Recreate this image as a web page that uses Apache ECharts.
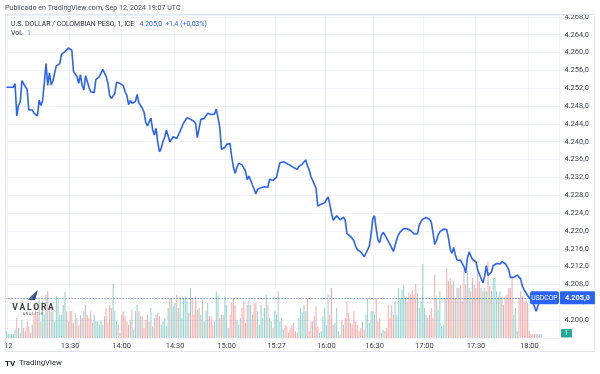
<!DOCTYPE html>
<html><head><meta charset="utf-8">
<script src="https://cdn.jsdelivr.net/npm/echarts@6/dist/echarts.min.js"></script>
<style>html,body{margin:0;padding:0;background:#fff}#c{width:600px;height:374px}</style>
</head><body><div id="c"></div>
<script>
// 1-minute closes, USD/COP (ICE), Sep 12 2024
const prices = [
4252.2,4252.2,4252.2,4252.2,4252.2,4253.0,4245.8,4248.2,4248.8,4253.7,
4253.4,4252.3,4251.8,4247.1,4247.0,4247.1,4246.4,4246.0,4245.8,4249.3,
4248.1,4249.2,4253.1,4257.5,4252.6,4255.4,4252.7,4253.6,4255.4,4257.0,
4257.2,4257.5,4259.6,4259.8,4260.2,4260.1,4261.0,4260.6,4260.5,4255.7,
4255.7,4254.6,4253.1,4255.0,4252.6,4251.6,4254.8,4253.5,4252.2,4251.2,
4250.9,4251.0,4253.9,4254.2,4254.6,4255.0,4256.2,4256.1,4254.6,4253.1,
4250.3,4249.7,4250.1,4250.8,4253.3,4253.0,4253.1,4252.9,4252.5,4251.2,
4250.4,4248.3,4249.2,4248.6,4249.0,4249.0,4250.6,4248.7,4248.8,4247.5,
4246.6,4244.3,4243.5,4244.5,4245.3,4242.7,4241.5,4243.0,4239.8,4237.7,
4238.5,4240.1,4241.0,4242.6,4242.9,4240.0,4240.4,4241.1,4241.1,4240.7,
4241.5,4241.8,4243.3,4244.2,4244.8,4245.4,4245.0,4245.0,4244.8,4244.6,
4244.0,4240.9,4243.0,4245.0,4244.9,4245.2,4245.8,4246.4,4246.3,4246.1,
4246.0,4246.2,4247.3,4247.3,4243.4,4238.3,4238.3,4238.7,4239.4,4239.7,
4239.6,4236.5,4234.2,4232.9,4234.2,4235.2,4235.3,4234.8,4234.5,4233.4,
4231.5,4232.3,4232.5,4230.3,4229.4,4228.3,4229.3,4229.5,4229.7,4229.9,
4229.9,4229.9,4229.8,4231.6,4231.6,4231.3,4231.6,4232.0,4233.7,4235.3,
4235.5,4235.5,4235.3,4235.1,4235.0,4234.7,4234.4,4234.2,4233.9,4233.8,
4234.4,4234.8,4235.0,4235.3,4235.9,4234.6,4233.7,4232.2,4232.2,4230.5,
4229.5,4225.6,4225.8,4226.0,4226.0,4226.3,4227.0,4227.6,4226.0,4224.0,
4222.4,4222.4,4223.4,4223.4,4222.5,4222.4,4223.1,4222.3,4219.4,4219.1,
4218.8,4218.7,4217.8,4216.6,4215.8,4215.6,4215.3,4215.1,4214.2,4215.0,
4215.4,4216.6,4219.3,4222.7,4223.4,4220.4,4218.0,4217.4,4219.0,4219.7,
4219.1,4218.4,4218.0,4217.0,4216.6,4215.4,4216.8,4218.2,4219.2,4219.8,
4220.2,4220.5,4220.6,4220.5,4220.4,4220.1,4219.7,4219.3,4219.1,4219.3,
4221.3,4222.1,4222.6,4222.9,4223.0,4222.9,4222.6,4222.0,4219.6,4217.0,
4217.8,4219.1,4219.8,4220.2,4220.4,4220.4,4220.3,4218.4,4215.9,4215.0,
4216.3,4214.6,4213.5,4213.6,4213.4,4213.3,4212.0,4210.6,4213.8,4215.3,
4214.4,4213.6,4213.8,4213.1,4211.2,4210.3,4210.5,4208.4,4209.8,4212.2,
4210.0,4209.8,4210.8,4212.2,4212.6,4212.7,4212.4,4212.6,4213.1,4213.0,
4212.7,4212.5,4211.4,4209.6,4209.5,4209.6,4209.7,4210.1,4210.0,4209.2,
4207.6,4206.8,4206.2,4205.5,4205.2,4204.6,4204.0,4203.0,4202.0,4203.2,
4204.4,4205.0
];
// volume per minute (relative units)
const volumes = [
20,12,12,12,12,25,60,30,15,55,30,20,50,35,
15,40,75,100,70,115,50,110,70,130,140,100,90,80,
50,125,120,70,70,100,138,80,50,80,80,45,75,60,
40,70,60,80,100,70,60,80,45,70,50,50,40,55,
40,65,90,45,100,90,162,80,50,40,15,70,80,65,
50,40,55,85,25,80,100,80,65,65,30,55,70,50,
90,35,60,70,75,65,40,50,60,35,90,120,120,95,
105,130,90,125,60,120,125,110,75,150,120,70,125,85,
90,70,115,50,80,105,65,65,40,50,140,125,60,70,
70,125,100,30,70,105,120,100,55,40,60,90,110,45,
100,115,100,70,105,105,80,40,100,60,90,130,100,60,
50,30,80,70,140,50,60,25,40,35,15,30,40,45,
20,15,60,90,75,100,80,120,20,50,50,65,95,35,
15,20,65,90,40,130,70,150,40,45,90,20,10,55,
40,60,110,75,45,40,80,50,40,20,30,50,25,70,
120,45,80,80,70,120,50,60,15,25,20,30,100,60,
100,70,110,70,150,120,145,160,120,110,135,130,145,130,
162,135,90,110,222,90,70,60,70,90,60,190,125,85,
140,35,40,120,209,170,180,160,170,120,150,150,160,110,
205,160,200,150,140,180,160,150,200,170,150,140,150,140,
230,155,140,180,180,140,125,140,125,100,125,130,150,150,
180,70,90,20,120,140,125,110,110,105,20,12,12,12,
12,12,12,12
];
const tickIndex = [1,37,67,98,128,157,186,214,243,273,304];
const tickText = ['12','13:30','14:00','14:30','15:00','15:27','16:00','16:30','17:00','17:30','18:00'];
const priceMin = 4196, priceMax = 4268.4, priceStep = 4;
const lastPrice = 4205.0, lastVolume = 1;
const symbol = 'USDCOP';
const rightPadBars = 10;

const categories = [];
for (let i = 0; i < prices.length + rightPadBars; i++) categories.push(String(i));

function eu(v, d) {
  const s = v.toFixed(d).split('.');
  s[0] = s[0].replace(/\B(?=(\d{3})+(?!\d))/g, '.');
  return s.join(',');
}
const UP = 'rgba(38,166,154,0.5)', DOWN = 'rgba(239,83,80,0.5)';
const volData = volumes.map((v, i) => ({
  value: v,
  itemStyle: { color: (i === 0 || prices[i] >= prices[i - 1]) ? UP : DOWN }
}));
const FONT = 'Roboto, "Liberation Sans", sans-serif';
const gridTop = 15, gridH = 323;

const chart = echarts.init(document.getElementById('c'), null, { renderer: 'canvas' });
chart.setOption({
  animation: false,
  backgroundColor: '#fff',
  grid: { left: 5.6, top: gridTop, width: 553.8, height: gridH, containLabel: false },
  xAxis: {
    type: 'category', data: categories, boundaryGap: true,
    axisLine: { show: false }, axisTick: { show: false },
    axisLabel: {
      interval: (i) => tickIndex.indexOf(i) >= 0,
      formatter: (v, i) => { const k = tickIndex.indexOf(i); return k >= 0 ? tickText[k] : ''; },
      margin: 4, fontSize: 7.5, color: '#3b3f4a', fontFamily: FONT
    },
    splitLine: { show: true, interval: (i) => tickIndex.indexOf(i) >= 0, lineStyle: { color: '#f0f3fa', width: 1 } }
  },
  yAxis: [{
    type: 'value', position: 'right', min: priceMin, max: priceMax, interval: priceStep,
    axisLine: { show: false }, axisTick: { show: false },
    axisLabel: {
      showMinLabel: false, showMaxLabel: false, margin: 5, fontSize: 7.5, color: '#3b3f4a', fontFamily: FONT,
      formatter: (v) => Math.abs(v / priceStep - Math.round(v / priceStep)) > 1e-6 ? '' : eu(v, 1)
    },
    splitLine: { lineStyle: { color: '#f0f3fa', width: 1 } }
  }, {
    type: 'value', min: 0, max: 3 * gridH, show: false, splitLine: { show: false }
  }],
  series: [{
    type: 'bar', yAxisIndex: 1, data: volData, barWidth: 1, z: 1, silent: true
  }, {
    type: 'line', yAxisIndex: 0, data: prices, showSymbol: false, symbol: 'none', z: 3,
    lineStyle: { color: '#2962ff', width: 1.6 },
    markLine: {
      silent: true, symbol: 'none', label: { show: false },
      lineStyle: { color: '#2962ff', type: [1, 2], width: 1, opacity: 0.9 },
      data: [{ yAxis: lastPrice }]
    }
  }]
});

const yLast = chart.convertToPixel({ yAxisIndex: 0 }, lastPrice);
chart.setOption({
  graphic: [
    { type: 'rect', shape: { x: 5.5, y: 14.5, width: 589, height: 337 }, style: { fill: 'none', stroke: '#e0e3eb', lineWidth: 1 }, z: 50 },
    { type: 'text', z: 60, style: { x: 5, y: 8.5, text: 'Publicado en TradingView.com, Sep 12, 2024 19:07 UTC', fontSize: 7.1, fontFamily: FONT, fill: '#4a4e59', align: 'left', verticalAlign: 'middle' } },
    { type: 'text', z: 60, style: { x: 11, y: 24.5, text: 'U.S. DOLLAR / COLOMBIAN PESO, 1, ICE', fontSize: 6.9, fontFamily: FONT, fill: '#2a2e39', align: 'left', verticalAlign: 'middle' } },
    { type: 'text', z: 60, style: { x: 139.5, y: 24.5, text: eu(lastPrice, 1) + '  +1,4 (+0,03%)', fontSize: 6.9, fontFamily: FONT, fill: '#2962ff', align: 'left', verticalAlign: 'middle' } },
    { type: 'text', z: 60, style: { x: 11, y: 33.5, text: 'Vol.', fontSize: 6.9, fontFamily: FONT, fill: '#2a2e39', align: 'left', verticalAlign: 'middle' } },
    { type: 'text', z: 60, style: { x: 27, y: 33.5, text: String(lastVolume), fontSize: 6.9, fontFamily: FONT, fill: '#22ab94', align: 'left', verticalAlign: 'middle' } },
    // last price labels
    { type: 'rect', z: 70, shape: { x: 530, y: yLast - 6.5, width: 29, height: 13, r: 2 }, style: { fill: '#2962ff' } },
    { type: 'text', z: 71, style: { x: 544.5, y: yLast + 0.5, text: symbol, fontSize: 6.8, fontFamily: FONT, fill: '#fff', align: 'center', verticalAlign: 'middle' } },
    { type: 'rect', z: 70, shape: { x: 560, y: yLast - 6.5, width: 35, height: 13, r: 1 }, style: { fill: '#2962ff' } },
    { type: 'text', z: 71, style: { x: 577.5, y: yLast + 0.5, text: eu(lastPrice, 1), fontSize: 7.4, fontWeight: 'bold', fontFamily: FONT, fill: '#fff', align: 'center', verticalAlign: 'middle' } },
    { type: 'rect', z: 70, shape: { x: 561, y: 329, width: 11, height: 8.5, r: 1 }, style: { fill: '#22ab94' } },
    { type: 'text', z: 71, style: { x: 566.5, y: 333.5, text: String(lastVolume), fontSize: 7, fontFamily: FONT, fill: '#fff', align: 'center', verticalAlign: 'middle' } },
    // watermark
    { type: 'polygon', z: 40, shape: { points: [[28, 300], [38, 290], [35, 300]] }, style: { fill: '#2b4a80' } },
    { type: 'polygon', z: 40, shape: { points: [[30, 297], [37, 291], [31, 301]] }, style: { fill: '#4f6fa8' } },
    { type: 'text', z: 40, style: { x: 33, y: 307.5, text: 'V\u2009A\u2009L\u2009O\u2009R\u2009A', fontSize: 8.5, fontWeight: 'bold', fontFamily: FONT, fill: '#3a3d45', align: 'center', verticalAlign: 'middle' } },
    { type: 'text', z: 40, style: { x: 33, y: 314, text: 'A N A L I T I K', fontSize: 3.4, fontFamily: FONT, fill: '#555', align: 'center', verticalAlign: 'middle' } },
    // footer logo
    { type: 'text', z: 60, style: { x: 5, y: 363.5, text: 'TV', fontSize: 8, fontWeight: 'bold', fontFamily: FONT, fill: '#131722', align: 'left', verticalAlign: 'middle' } },
    { type: 'text', z: 60, style: { x: 19, y: 363.5, text: 'TradingView', fontSize: 7.8, fontFamily: FONT, fill: '#2a2e39', align: 'left', verticalAlign: 'middle' } }
  ]
});
</script>
</body></html>
